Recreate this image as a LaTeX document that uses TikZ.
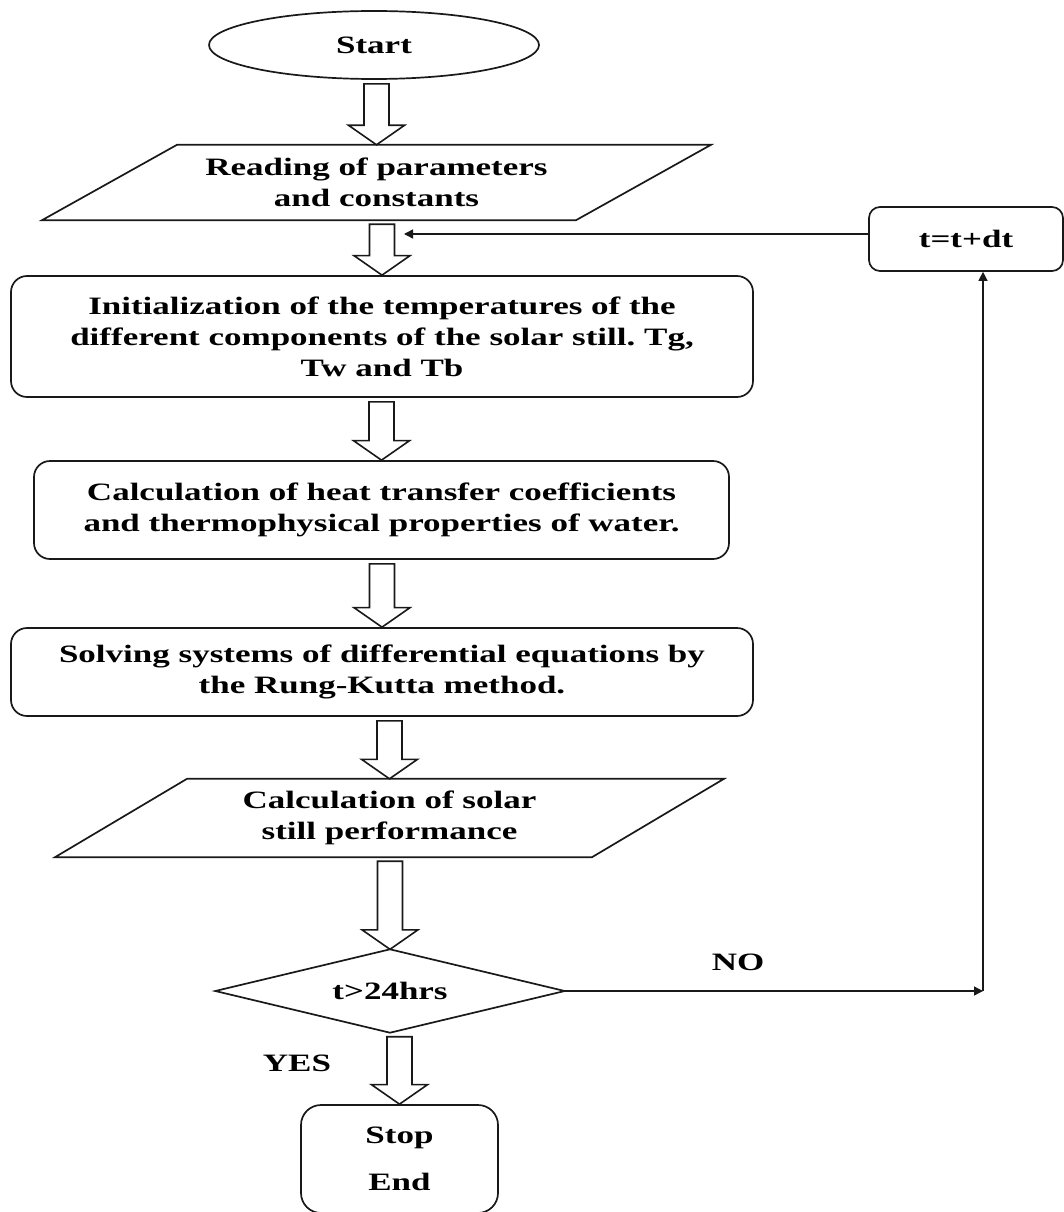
\documentclass[tikz,border=0pt]{standalone}
\usepackage{fontspec}
\setmainfont{Liberation Serif}[FakeStretch=1.4]
\usetikzlibrary{shapes.geometric,arrows.meta,calc}
\frenchspacing
\newcommand\blkarrow[2]{%
  \draw[blockarrow] let \p1=(#1), \p2=(#2) in
    (\x2-12.5pt,\y1-4pt) -- (\x2-12.5pt,\y2+19.5pt) -- (\x2-28pt,\y2+19.5pt) --
    (\x2,\y2) -- (\x2+28pt,\y2+19.5pt) -- (\x2+12.5pt,\y2+19.5pt) --
    (\x2+12.5pt,\y1-4pt) -- cycle;}
\begin{document}
\begin{tikzpicture}[x=1pt,y=-1pt,
  txt/.style={font=\bfseries\fontsize{25}{31}\selectfont, align=center, inner sep=0pt},
  outline/.style={draw=black!90, line width=1.7pt},
  rbox/.style={txt, outline, rounded corners=16pt},
  conn/.style={draw=black!90, line width=1.4pt, -{Triangle[length=9pt,width=9pt]}},
  blockarrow/.style={outline, line width=1.6pt, fill=white, line join=miter}]
\useasboundingbox (0,0) rectangle (1064,1212);
\fill[white] (0,0) rectangle (1064,1212);

\node[txt, outline, ellipse, minimum width=330pt, minimum height=68pt] (start) at (374,45) {Start};

\node[txt, minimum width=400pt, minimum height=75pt] (read) at (376.5,182.5) {Reading of parameters\\and constants};
\draw[outline] ($(read.north)+(-199.5,0)$) -- ($(read.north)+(334.5,0)$) -- ($(read.south)+(199.5,0)$) -- ($(read.south)+(-334.5,0)$) -- cycle;

\node[rbox, minimum width=742pt, minimum height=121pt] (init) at (382,336.5) {Initialization of the temperatures of the\\different components of the solar still. Tg,\\Tw and Tb};

\node[rbox, minimum width=695pt, minimum height=98pt] (calc) at (381.5,510) {Calculation of heat transfer coefficients\\and thermophysical properties of water.};

\node[rbox, minimum width=742pt, minimum height=88pt] (solve) at (382,672) {Solving systems of differential equations by\\the Rung-Kutta method.};

\node[txt, minimum width=400pt, minimum height=78pt] (perf) at (389.5,818) {Calculation of solar\\still performance};
\draw[outline] ($(perf.north)+(-202.5,0)$) -- ($(perf.north)+(334.5,0)$) -- ($(perf.south)+(202.5,0)$) -- ($(perf.south)+(-334.5,0)$) -- cycle;

\node[txt, minimum width=349pt, minimum height=83pt] (dec) at (390,991) {t>24hrs};
\draw[outline] (dec.north) -- (dec.east) -- (dec.south) -- (dec.west) -- cycle;

\node[rbox, rounded corners=20pt, minimum width=197pt, minimum height=108pt] (stop) at (399.5,1159) {Stop\\[16pt]End};

\node[rbox, rounded corners=11pt, minimum width=194pt, minimum height=64pt] (tdt) at (966,239) {t=t+dt};

\node[txt] (no) at (738,962) {NO};
\node[txt] (yes) at (297,1063) {YES};

\blkarrow{start.south}{read.north}
\blkarrow{read.south}{init.north}
\blkarrow{init.south}{calc.north}
\blkarrow{calc.south}{solve.north}
\blkarrow{solve.south}{perf.north}
\blkarrow{perf.south}{dec.north}
\blkarrow{dec.south}{stop.north}

\coordinate (fb) at (404,234);
\coordinate (corner) at (983,991);
\draw[conn] (fb -| tdt.west) -- (fb);
\draw[conn] (dec.east) -- (corner);
\draw[conn] (corner) -- (corner |- tdt.south);
\end{tikzpicture}
\end{document}
